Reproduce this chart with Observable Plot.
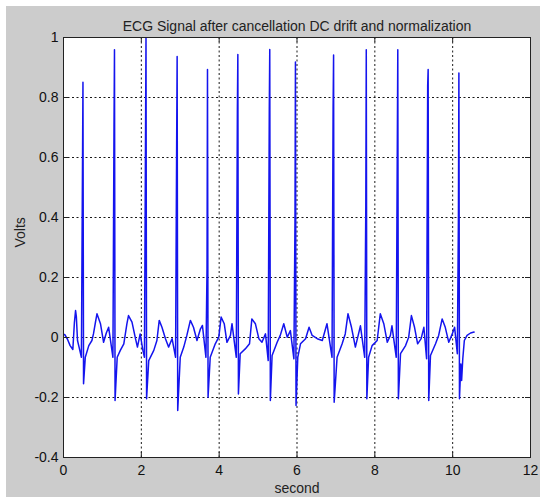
<!DOCTYPE html>
<html><head><meta charset="utf-8">
<script src="https://cdn.jsdelivr.net/npm/d3@7"></script>
<script src="https://cdn.jsdelivr.net/npm/@observablehq/plot@0.6"></script>
<style>
body{margin:0;background:#fff;}
#wrap{position:relative;width:540px;height:497px;overflow:hidden;}
#bg{position:absolute;left:6px;top:6px;width:534px;height:491px;background:#cccccc;}
#chart{position:absolute;left:0;top:0;}
</style></head><body>
<div id="wrap"><div id="bg"></div><div id="chart"></div></div>
<script>
const title = "ECG Signal after cancellation DC drift and normalization";
const xLabel = "second";
const yLabel = "Volts";
const xTicks = [0, 2, 4, 6, 8, 10, 12];
const yTicks = [-0.4, -0.2, 0, 0.2, 0.4, 0.6, 0.8, 1];

const seconds = [
  0.03, 0.10, 0.17, 0.24, 0.28, 0.31, 0.33, 0.36, 0.40, 0.46, 0.488, 0.50, 0.515, 0.56, 0.65, 0.73, 0.77, 0.82, 0.86, 0.95, 1.03, 1.10, 1.16,
  1.27, 1.298, 1.31, 1.325, 1.38, 1.46, 1.55, 1.63, 1.67, 1.76, 1.85, 1.90, 1.97, 2.04,
  2.08, 2.12, 2.135, 2.19, 2.32, 2.40, 2.46, 2.53, 2.62, 2.70, 2.79,
  2.88, 2.908, 2.92, 2.935, 3.00, 3.09, 3.17, 3.26, 3.34, 3.43, 3.52, 3.57,
  3.66, 3.688, 3.70, 3.715, 3.77, 3.90, 3.99, 4.05, 4.13, 4.20, 4.29, 4.33,
  4.44, 4.468, 4.48, 4.495, 4.54, 4.67, 4.78, 4.84, 4.93, 5.02, 5.10, 5.19,
  5.26, 5.288, 5.30, 5.315, 5.36, 5.49, 5.57, 5.66, 5.75, 5.83,
  5.92, 5.948, 5.96, 5.975, 6.02, 6.09, 6.22, 6.31, 6.39, 6.52, 6.65, 6.77,
  6.90, 6.928, 6.94, 6.955, 7.03, 7.16, 7.24, 7.31, 7.40, 7.50, 7.63,
  7.74, 7.768, 7.78, 7.795, 7.84, 7.93, 8.06, 8.14, 8.23, 8.32, 8.40, 8.44,
  8.55, 8.59, 8.605, 8.66, 8.79, 8.87, 8.94, 9.02, 9.10, 9.19, 9.26,
  9.33, 9.358, 9.37, 9.385, 9.43, 9.56, 9.64, 9.73, 9.81, 9.90, 9.99, 10.05,
  10.12, 10.148, 10.16, 10.175, 10.21, 10.23, 10.26, 10.30, 10.37, 10.46, 10.55
];
const volts = [
  0.010, -0.005, -0.027, -0.040, 0.050, 0.090, 0.070, -0.010, -0.032, -0.066, 0.57, 0.851, -0.154, -0.066, -0.027, -0.010, 0.012, 0.050, 0.079, 0.046, -0.016, 0.015, 0.034,
  -0.066, 0.71, 0.959, -0.210, -0.066, -0.043, -0.021, 0.046, 0.073, 0.051, -0.004, -0.032, 0.012, -0.043,
  -0.066, 1.0, -0.204, -0.077, -0.043, -0.010, 0.057, 0.034, -0.004, -0.032, -0.004,
  -0.066, 0.657, 0.937, -0.243, -0.066, -0.032, 0.007, 0.057, 0.034, -0.010, 0.029, 0.040,
  -0.066, 0.23, 0.893, -0.199, -0.066, -0.021, 0.001, 0.068, 0.046, -0.016, 0.007, 0.046,
  -0.066, 0.76, 0.943, -0.188, -0.054, -0.038, -0.021, 0.062, 0.046, -0.004, -0.016, 0.012,
  -0.077, 0.76, 0.960, -0.210, -0.060, -0.016, 0.007, 0.046, 0.001, 0.023,
  -0.071, 0.384, 0.918, -0.227, -0.066, -0.021, -0.004, 0.034, 0.007, -0.004, -0.010, 0.046,
  -0.066, 0.77, 0.942, -0.216, -0.066, -0.021, 0.012, 0.079, 0.034, -0.032, 0.039,
  -0.066, 0.44, 0.959, -0.204, -0.066, -0.027, -0.010, 0.079, 0.046, -0.016, 0.007, 0.039,
  -0.066, 0.959, -0.204, -0.054, -0.027, 0.001, 0.073, 0.034, -0.021, -0.004, 0.034,
  -0.071, 0.84, 0.893, -0.210, -0.060, -0.021, 0.007, 0.062, 0.034, -0.016, 0.012, 0.034,
  -0.054, 0.40, 0.882, -0.204, -0.088, -0.143, -0.071, -0.010, 0.007, 0.015, 0.018
];

const data = seconds.map((t, i) => ({t, v: volts[i]}));
const fmt = d => String(d);
const font = "'Liberation Sans', Arial, sans-serif";

const chart = Plot.plot({
  width: 540, height: 497,
  marginLeft: 63, marginRight: 10, marginTop: 37, marginBottom: 40,
  style: {background: "transparent", fontFamily: font, fontSize: "14px", color: "#111", overflow: "visible"},
  x: {domain: [0, 12]},
  y: {domain: [-0.4, 1]},
  marks: [
    Plot.frame({fill: "white", stroke: "none"}),
    Plot.gridX(xTicks, {stroke: "#000", strokeOpacity: 0.9, strokeDasharray: "2,2.5"}),
    Plot.gridY(yTicks, {stroke: "#000", strokeOpacity: 0.9, strokeDasharray: "2,2.5"}),
    Plot.line(data, {x: "t", y: "v", stroke: "#1414ee", strokeWidth: 1.5, clip: true}),
    Plot.ruleX(xTicks, {x: d => d, stroke: "#222", insetTop: 415}),
    Plot.ruleX(xTicks, {x: d => d, stroke: "#222", insetBottom: 415}),
    Plot.ruleY(yTicks, {y: d => d, stroke: "#222", insetRight: 462}),
    Plot.ruleY(yTicks, {y: d => d, stroke: "#222", insetLeft: 462}),
    Plot.frame({stroke: "#222"}),
    Plot.axisX(xTicks, {anchor: "bottom", tickSize: 0, tickPadding: 8, label: null, tickFormat: fmt, fill: "#111"}),
    Plot.axisY(yTicks, {anchor: "left", tickSize: 0, tickPadding: 5, label: null, tickFormat: fmt, fill: "#111"}),
    Plot.text([title], {text: d => d, frameAnchor: "top", lineAnchor: "bottom", dy: -7, fill: "#222", fontSize: 14}),
    Plot.text([xLabel], {text: d => d, frameAnchor: "bottom", lineAnchor: "bottom", dy: 35, fill: "#222", fontSize: 14}),
    Plot.text([yLabel], {text: d => d, frameAnchor: "left", lineAnchor: "middle", rotate: -90, dx: -43, fill: "#222", fontSize: 14})
  ]
});
document.getElementById("chart").appendChild(chart);
</script>
</body></html>
